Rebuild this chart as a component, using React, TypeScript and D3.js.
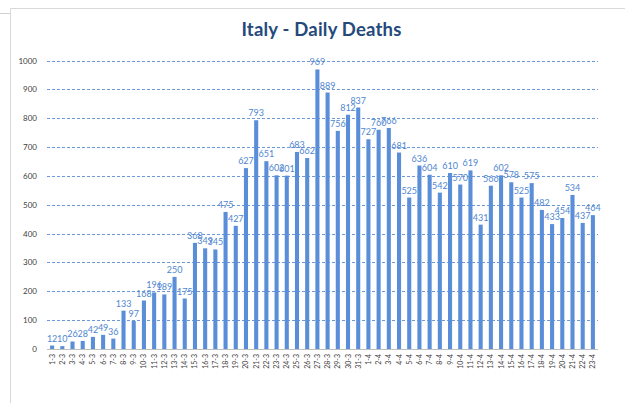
import React from "react";
import * as d3 from "d3";

const dates: string[] = [
  ...d3.range(1, 32).map((d) => `${d}-3`),
  ...d3.range(1, 24).map((d) => `${d}-4`),
];

const deaths: number[] = [
  12, 10, 26, 28, 42, 49, 36, 133, 97, 168, 196, 189, 250, 175, 368, 349, 345,
  475, 427, 627, 793, 651, 602, 601, 683, 662, 969, 889, 756, 812, 837,
  727, 760, 766, 681, 525, 636, 604, 542, 610, 570, 619, 431, 566, 602, 578,
  525, 575, 482, 433, 454, 534, 437, 464,
];

const yTicks: number[] = [0, 100, 200, 300, 400, 500, 600, 700, 800, 900, 1000];

const title = "Italy - Daily Deaths";

export default function App() {
  const W = 625;
  const H = 403;
  const left = 47;
  const right = 598;
  const top = 60.5;
  const bottom = 349;

  const x = d3.scaleBand<string>().domain(dates).range([left, right]).paddingInner(0.6).paddingOuter(0.3);
  const y = d3.scaleLinear().domain([0, 1000]).range([bottom, top]);
  const font = "Lato, 'Open Sans', 'Liberation Sans', sans-serif";

  return (
    <svg
      width={W}
      height={H}
      style={{ position: "absolute", left: 0, top: 0, background: "#fff" }}
      fontFamily={font}
    >
      <rect x={0} y={0} width={W} height={H} fill="#fff" />
      {/* frame fragments */}
      <line x1={0} x2={10.5} y1={13.5} y2={13.5} stroke="#d0d0d0" />
      <line x1={10.5} x2={W} y1={8.5} y2={8.5} stroke="#d9d9d9" />
      <line x1={10.5} x2={10.5} y1={8.5} y2={H} stroke="#d9d9d9" />

      <text x={321.5} y={36} textAnchor="middle" fontSize={18.5} fontWeight="bold" fill="#24497a" letterSpacing={0.2}>
        {title}
      </text>

      {yTicks.map((t) => (
        <g key={t}>
          {t > 0 && (
            <line
              x1={left}
              x2={right}
              y1={Math.round(y(t)) + 0.5}
              y2={Math.round(y(t)) + 0.5}
              stroke="#6d99d8"
              strokeDasharray="3,2"
            />
          )}
          <text x={37} y={y(t) + 3} textAnchor="end" fontSize={8} fill="#404040">
            {t}
          </text>
        </g>
      ))}

      {deaths.map((v, i) => {
        const d = dates[i];
        const bx = x(d) as number;
        return (
          <rect key={d} x={bx} y={y(v)} width={x.bandwidth()} height={bottom - y(v)} fill="#5b8ed8" />
        );
      })}

      <line x1={left} x2={right} y1={bottom + 0.5} y2={bottom + 0.5} stroke="#bfbfbf" />

      {deaths.map((v, i) => {
        const d = dates[i];
        const cx = (x(d) as number) + x.bandwidth() / 2;
        return (
          <text key={d} x={cx} y={y(v) - 4} textAnchor="middle" fontSize={9} fill="#4f86d0">
            {v}
          </text>
        );
      })}

      {dates.map((d) => {
        const cx = (x(d) as number) + x.bandwidth() / 2;
        return (
          <text
            key={d}
            transform={`translate(${cx + 2.5},${bottom + 5}) rotate(-90)`}
            textAnchor="end"
            fontSize={7}
            fill="#404040"
          >
            {d}
          </text>
        );
      })}
    </svg>
  );
}
